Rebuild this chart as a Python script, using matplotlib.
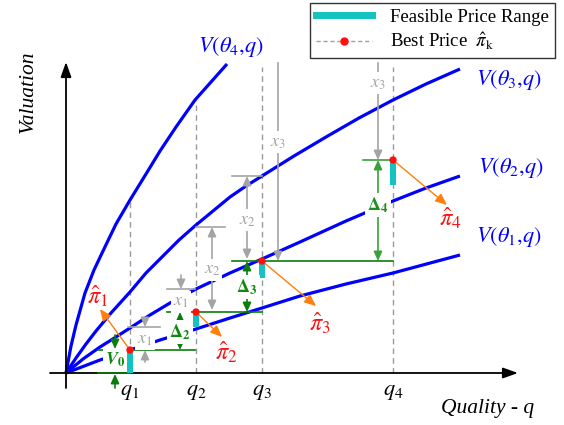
import matplotlib
matplotlib.use('Agg')
import matplotlib.pyplot as plt
from matplotlib.lines import Line2D

plt.rcParams['font.family'] = ['Liberation Serif', 'DejaVu Serif']
plt.rcParams['mathtext.fontset'] = 'stix'

# ---------------- data (quality units X, valuation units Y; origin = axes origin)
q_pos = [64, 130, 196, 327]
q_names = [r'$q_1$', r'$q_2$', r'$q_3$', r'$q_4$']

theta1_q = [0, 34, 64, 94, 130, 164, 196, 234, 280, 327, 394]
theta1_v = [0, 13, 23, 33, 44, 55, 65, 77, 89, 100, 118]
theta2_q = [0, 17, 34, 50, 64, 84, 104, 130, 164, 196, 234, 280, 327, 360, 394]
theta2_v = [0, 14, 26, 36, 45, 58, 70, 84, 100, 114, 131, 152, 172, 185, 197]
theta3_q = [0, 10, 20, 30, 45, 64, 80, 97, 113, 130, 147, 164, 180, 196, 228, 260, 293, 327, 360, 394]
theta3_v = [0, 15, 29, 42, 60, 81, 100, 117, 133, 148, 162, 176, 187, 197, 217, 236, 255, 273, 289, 304]
theta4_q = [0, 5, 10, 19, 28, 37, 50, 64, 80, 94, 110, 129, 145, 161]
theta4_v = [0, 27, 48, 80, 103, 122, 149, 173, 199, 222, 246, 273, 291, 309]
curve_names = [r'$V(\theta_1{,}q)$', r'$V(\theta_2{,}q)$', r'$V(\theta_3{,}q)$', r'$V(\theta_4{,}q)$']
curve_label_xy = [(443, 136), (445, 205), (443, 293), (165, 326)]

best_price = [23, 61, 112, 213]
range_low = [0, 46, 95, 188]
dash_top = [173, 273, 306, 306]

pi_names = [r'$\hat{\pi}_1$', r'$\hat{\pi}_2$', r'$\hat{\pi}_3$', r'$\hat{\pi}_4$']
pi_arrow_end = [(34, 64), (156, 36), (250, 67), (381, 168)]
pi_label_xy = [(32, 77), (160, 21), (254, 50), (384, 155)]

# horizontal reference lines (x0, x1, y)
green_hlines = [(32, 129, 23), (32, 64, 0), (101, 196, 61), (166, 327, 112), (297, 327, 213)]
gray_hlines = [(62, 94, 46), (101, 129, 84), (130, 159, 146), (166, 196, 197)]

# dimension annotations: (x, label y, [arrow targets], text, color)
dims_inside = [
    (114, 41, [61, 23], r'$\mathbf{\Delta_2}$', 'green'),
    (181, 86, [112, 61], r'$\mathbf{\Delta_3}$', 'green'),
    (312, 168, [213, 112], r'$\mathbf{\Delta_4}$', 'lightgreen'),
    (146, 103, [146, 63], r'$x_2$', 'gray'),
    (181, 153, [197, 114], r'$x_2$', 'gray'),
    (212, 231, [112], r'$x_3$', 'gray'),
    (312, 290, [213], r'$x_3$', 'gray'),
]
dim_top_line = {(212, 231): 310, (312, 290): 310}
# outside arrows: (x, start y, end y, color)
outside_arrows = [
    (49, 38, 24, 'green'), (49, -15, -1, 'green'),
    (79, 55, 46, 'gray'), (79, 11, 23, 'gray'),
    (115, 98, 84, 'gray'),
]
outside_labels = [
    (49, 13, r'$\mathbfit{V}_{\mathbf{0}}$', 'green'),
    (79, 34, r'$x_1$', 'gray'),
    (115, 71, r'$x_1$', 'gray'),
]

colors = {'green': '#0a7d0a', 'lightgreen': '#3aa03a', 'gray': '#a4a4a4'}
text_colors = {'green': '#0f8a0f', 'lightgreen': '#1f8f1f', 'gray': '#a4a4a4'}
BLUE = '#0000ff'
CYAN = '#14c2c2'
RED = '#ff1010'
ORANGE = '#ff7f0e'

fig = plt.figure(figsize=(5.64, 4.25), dpi=100)
ax = fig.add_axes([0, 0, 1, 1])
ax.set_xlim(-66, 498)
ax.set_ylim(-52, 373)
ax.axis('off')

# axes with arrows
arrow_kw = dict(arrowstyle='-|>,head_length=0.9,head_width=0.32', color='black', lw=1.3,
                shrinkA=0, shrinkB=0, mutation_scale=10)
ax.annotate('', xy=(452, 0), xytext=(-16, 0), arrowprops=arrow_kw, zorder=3)
ax.annotate('', xy=(0, 311), xytext=(0, -15), arrowprops=arrow_kw, zorder=3)

# dashed quality guides
for x, top in zip(q_pos, dash_top):
    ax.plot([x, x], [0, top], color='#9a9a9a', lw=1.0, ls=(0, (4, 3)), zorder=1)

# valuation curves
for qs, vs in [(theta1_q, theta1_v), (theta2_q, theta2_v), (theta3_q, theta3_v), (theta4_q, theta4_v)]:
    ax.plot(qs, vs, color=BLUE, lw=2.3, solid_capstyle='butt', solid_joinstyle='round', zorder=2)
for name, (x, y) in zip(curve_names, curve_label_xy):
    ax.text(x, y, name, color=BLUE, fontsize=16, ha='center', va='center', zorder=6)

# reference lines
for x0, x1, y in green_hlines:
    c = colors['lightgreen'] if y == 213 else colors['green']
    ax.plot([x0, x1], [y, y], color=c, lw=1.2, zorder=3)
for x0, x1, y in gray_hlines:
    ax.plot([x0, x1], [y, y], color=colors['gray'], lw=1.2, zorder=3)

def arrow(x, y0, y1, color):
    ax.annotate('', xy=(x, y1), xytext=(x, y0),
                arrowprops=dict(arrowstyle='-|>,head_length=0.55,head_width=0.25',
                                color=colors[color], lw=1.2, shrinkA=0, shrinkB=0,
                                mutation_scale=10), zorder=4)

for x, ly, targets, txt, c in dims_inside:
    if (x, ly) in dim_top_line:
        ax.plot([x, x], [ly, dim_top_line[(x, ly)]], color=colors[c], lw=1.2, zorder=4)
    for t in targets:
        arrow(x, ly, t, c)
    ax.text(x, ly, txt, color=text_colors[c], fontsize=13, ha='center', va='center', zorder=7,
            bbox=dict(boxstyle='square,pad=0.12', fc='white', ec='none'))

for x, y0, y1, c in outside_arrows:
    arrow(x, y0, y1, c)
for x, y, txt, c in outside_labels:
    ax.text(x, y, txt, color=text_colors[c], fontsize=13, ha='center', va='center', zorder=7,
            bbox=dict(boxstyle='square,pad=0.12', fc='white', ec='none'))

# feasible price ranges and best prices
ax.bar(q_pos, [p - l for p, l in zip(best_price, range_low)], bottom=range_low,
       width=6, color=CYAN, zorder=5)
ax.scatter(q_pos, best_price, s=28, color=RED, zorder=8, edgecolors='none')

for (x, y), (ex, ey), (lx, ly), name in zip(zip(q_pos, best_price), pi_arrow_end, pi_label_xy, pi_names):
    ax.annotate('', xy=(ex, ey), xytext=(x, y),
                arrowprops=dict(arrowstyle='-|>,head_length=0.7,head_width=0.3', color=ORANGE,
                                lw=1.0, shrinkA=0, shrinkB=0, mutation_scale=10), zorder=6)
    ax.text(lx, ly, name, color=RED, fontsize=17.5, ha='center', va='center', zorder=7)

# quality tick labels
for x, name in zip(q_pos, q_names):
    ax.text(x, -20, name, fontsize=16, ha='center', va='center')

ax.text(-38, 281, 'Valuation', rotation=90, fontsize=15.5, style='italic', ha='center', va='center')
ax.text(375, -35, 'Quality - q', fontsize=15.5, style='italic', ha='left', va='center')

handles = [Line2D([], [], color=CYAN, lw=5),
           Line2D([], [], color='#a0a0a0', lw=1, ls=(0, (3, 2)), marker='o',
                  markersize=5, markerfacecolor=RED, markeredgecolor=RED)]
leg = fig.legend(handles, ['Feasible Price Range', r'Best Price  $\hat{\pi}_\mathrm{k}$'],
                 loc='upper right', bbox_to_anchor=(555 / 564, 1 - 3 / 425),
                 fontsize=13.5, frameon=True, fancybox=False, edgecolor='black',
                 handlelength=3.0, borderpad=0.3, labelspacing=0.25, handletextpad=1.0,
                 borderaxespad=0)
leg.get_frame().set_linewidth(1.0)

fig.savefig('out.png', dpi=100)
